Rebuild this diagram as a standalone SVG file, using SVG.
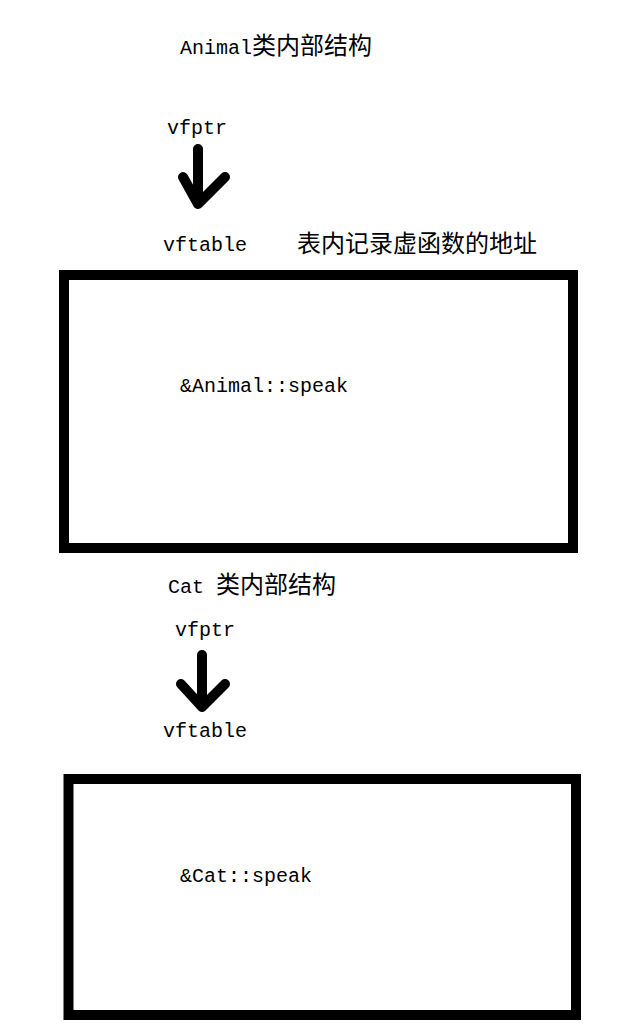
<svg xmlns="http://www.w3.org/2000/svg" width="624" height="1032" viewBox="0 0 624 1032">
<style>
.t{font-family:"Liberation Mono","Noto Sans CJK SC",monospace;font-size:20px;fill:#000}
.c{font-family:"Noto Sans CJK SC",sans-serif;font-size:24px}
.box{fill:#fff;stroke:#000;stroke-width:10}
.arr{fill:none;stroke:#000;stroke-width:10;stroke-linecap:round;stroke-linejoin:round}
</style>
<rect width="624" height="1032" fill="#fff"/>
<g id="animal-title"><text class="t" x="180" y="54">Animal<tspan class="c">类内部结构</tspan></text></g>
<g id="animal-vfptr"><text class="t" x="167" y="134">vfptr</text></g>
<g id="animal-vftable"><text class="t" x="163" y="251">vftable</text><text class="t c" x="297" y="252">表内记录虚函数的地址</text></g>
<g id="animal-table"><rect class="box" x="64" y="275" width="509" height="273"/><text class="t" x="180" y="392">&amp;Animal::speak</text></g>
<g id="cat-title"><text class="t" x="168" y="593">Cat <tspan class="c">类内部结构</tspan></text></g>
<g id="cat-vfptr"><text class="t" x="175" y="636">vfptr</text></g>
<g id="cat-vftable"><text class="t" x="163" y="737">vftable</text></g>
<g id="cat-table"><rect class="box" x="68.5" y="779" width="507.5" height="236"/><text class="t" x="180" y="882">&amp;Cat::speak</text></g>
<g id="connectors">
<path class="arr" d="M198 149 V202 M183 177 L198 204 L225 177"/>
<path class="arr" d="M202 655 V705 M181 684 L202 707 L225 684"/>
</g>
</svg>
